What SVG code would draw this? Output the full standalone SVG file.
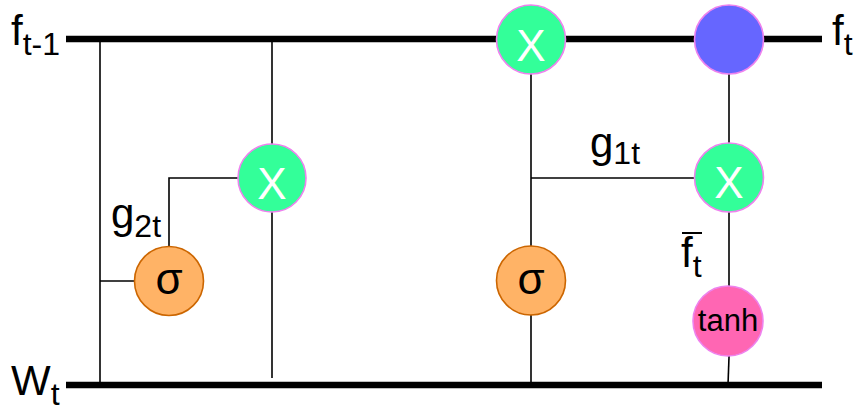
<svg xmlns="http://www.w3.org/2000/svg" width="857" height="407" viewBox="0 0 857 407">
  <style>
    .rail { stroke: #000; stroke-width: 6.5; fill: none; }
    .wire { stroke: #000; stroke-width: 1.6; fill: none; }
    .mul { fill: #33FF99; stroke: #EE82EE; stroke-width: 1.6; }
    .sig { fill: #FFB366; stroke: #CC6600; stroke-width: 1.6; }
    .add { fill: #6666FF; stroke: #EE82EE; stroke-width: 1.6; }
    .act { fill: #FF66B3; stroke: #EE82EE; stroke-width: 1.6; }
    text { font-family: "Liberation Sans", Arial, sans-serif; fill: #000; }
    .lbl { font-size: 42px; }
    .sub { font-size: 32px; }
    .op { font-size: 44px; fill: #fff; text-anchor: middle; }
    .sg { font-size: 44px; text-anchor: middle; }
    .th { font-size: 31px; text-anchor: middle; }
  </style>

  <!-- connectors -->
  <g id="connectors">
    <line class="rail" x1="66" y1="39" x2="822" y2="39"/>
    <line class="rail" x1="66" y1="385" x2="822" y2="385"/>
    <line class="wire" x1="100" y1="39" x2="100" y2="385"/>
    <line class="wire" x1="100" y1="281" x2="134" y2="281"/>
    <polyline class="wire" points="169,246 169,178 238,178"/>
    <line class="wire" x1="272" y1="39" x2="272" y2="378"/>
    <line class="wire" x1="531" y1="39" x2="531" y2="385"/>
    <line class="wire" x1="531" y1="178" x2="694" y2="178"/>
    <line class="wire" x1="729" y1="39" x2="729" y2="357"/>
    <line class="wire" x1="729" y1="357" x2="728" y2="385"/>
  </g>

  <!-- rail labels -->
  <text class="lbl" x="11" y="45">f<tspan class="sub" dy="10">t-1</tspan></text>
  <text class="lbl" x="832" y="45">f<tspan class="sub" dy="10">t</tspan></text>
  <text class="lbl" x="11" y="395">W<tspan class="sub" dy="10">t</tspan></text>

  <!-- gate labels -->
  <text class="lbl" x="111" y="228">g<tspan class="sub" dy="9">2t</tspan></text>
  <text class="lbl" x="590" y="157">g<tspan class="sub" dy="7">1t</tspan></text>
  <text class="lbl" x="681" y="267">f<tspan class="sub" dy="10">t</tspan></text>
  <line x1="682" y1="233" x2="702" y2="233" stroke="#000" stroke-width="2"/>

  <!-- left branch -->
  <g id="sigma2">
    <circle class="sig" cx="169" cy="281" r="34.5"/>
    <text class="sg" x="169" y="294">σ</text>
  </g>
  <g id="mul2">
    <circle class="mul" cx="272" cy="178" r="34"/>
    <text class="op" x="272" y="199">X</text>
  </g>

  <!-- right branch -->
  <g id="mulTop">
    <circle class="mul" cx="531" cy="39.5" r="34.5"/>
    <text class="op" x="531" y="61">X</text>
  </g>
  <g id="sigma1">
    <circle class="sig" cx="531" cy="280.5" r="34.5"/>
    <text class="sg" x="531" y="294">σ</text>
  </g>
  <g id="sum">
    <circle class="add" cx="729" cy="39.5" r="34.5"/>
  </g>
  <g id="mul1">
    <circle class="mul" cx="729" cy="177.5" r="34.5"/>
    <text class="op" x="729" y="198">X</text>
  </g>
  <g id="tanh">
    <circle class="act" cx="728" cy="321" r="35"/>
    <text class="th" x="728" y="331">tanh</text>
  </g>
</svg>
